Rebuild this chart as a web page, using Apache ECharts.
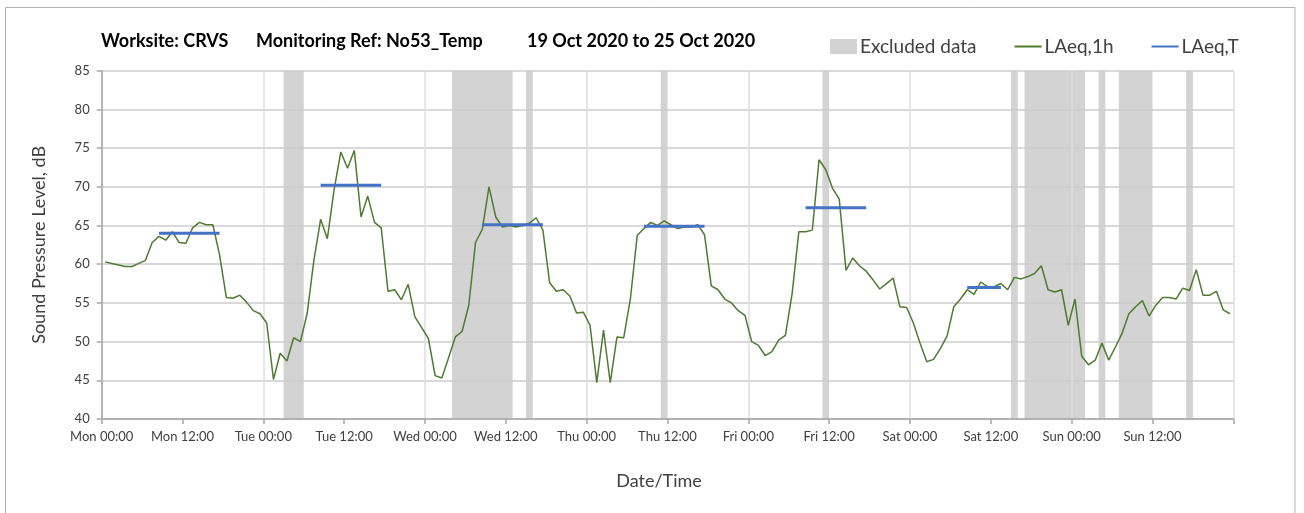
<!DOCTYPE html>
<html>
<head>
<meta charset="utf-8">
<script src="https://cdn.jsdelivr.net/npm/echarts@6/dist/echarts.min.js"></script>
<style>
  html, body { margin: 0; padding: 0; background: #fff; }
  #chart { width: 1304px; height: 513px; }
</style>
</head>
<body>
<div id="chart"></div>
<script>
// hourly LAeq,1h values, one array per day (00:00 .. 23:00)
const dayNames = ['Mon', 'Tue', 'Wed', 'Thu', 'Fri', 'Sat', 'Sun'];
const monValues = [60.3, 60.1, 59.9, 59.7, 59.7, 60.1, 60.5, 62.8, 63.6, 63.1, 64.2, 62.8,
                   62.7, 64.7, 65.4, 65.1, 65.1, 61.2, 55.7, 55.6, 56.0, 55.1, 54.0, 53.6];
const tueValues = [52.4, 45.1, 48.5, 47.5, 50.5, 50.0, 53.6, 60.5, 65.8, 63.3, 69.6, 74.5,
                   72.4, 74.7, 66.1, 68.8, 65.4, 64.7, 56.5, 56.7, 55.4, 57.4, 53.2, 51.8];
const wedValues = [50.4, 45.6, 45.3, 47.9, 50.6, 51.3, 54.7, 62.8, 64.5, 70.0, 66.1, 64.8,
                   65.0, 64.8, 65.0, 65.3, 66.0, 64.4, 57.6, 56.5, 56.7, 55.9, 53.7, 53.8];
const thuValues = [52.1, 44.7, 51.5, 44.7, 50.6, 50.5, 55.6, 63.7, 64.6, 65.4, 65.0, 65.6,
                   65.1, 64.6, 64.8, 64.8, 65.1, 63.8, 57.2, 56.7, 55.5, 55.0, 54.0, 53.4];
const friValues = [50.0, 49.5, 48.2, 48.7, 50.2, 50.8, 56.2, 64.2, 64.2, 64.4, 73.5, 72.2,
                   69.8, 68.4, 59.2, 60.8, 59.8, 59.1, 58.0, 56.8, 57.5, 58.2, 54.5, 54.4];
const satValues = [52.4, 49.8, 47.4, 47.7, 49.1, 50.7, 54.5, 55.5, 56.7, 56.1, 57.7, 57.1,
                   57.1, 57.5, 56.7, 58.3, 58.1, 58.4, 58.8, 59.8, 56.7, 56.4, 56.7, 52.1];
const sunValues = [55.5, 48.1, 47.0, 47.6, 49.8, 47.6, 49.3, 51.1, 53.6, 54.5, 55.3, 53.3,
                   54.7, 55.7, 55.7, 55.5, 56.9, 56.6, 59.3, 56.0, 56.0, 56.5, 54.1, 53.6];

// LAeq,T daytime period values (hours from Mon 00:00)
const laeqTValues = [64.0, 70.2, 65.1, 64.9, 67.3, 57.0];
const laeqTStart = [8, 32, 56, 80, 104, 128];
const laeqTEnd = [17, 41, 65, 89, 113, 133];

// excluded data periods (hours from Mon 00:00)
const excludedStart = [27, 52, 63, 83, 107, 135, 137, 148, 151, 161];
const excludedEnd = [30, 61, 64, 84, 108, 136, 146, 149, 156, 162];

const yTicks = [40, 85, 5];

const allValues = [].concat(monValues, tueValues, wedValues, thuValues, friValues, satValues, sunValues);
// each hourly value plotted at the middle of its hour
const hourlyData = allValues.map((v, i) => [i + 0.5, v]);

const laeqTSeries = laeqTValues.map((v, i) => ({
    name: 'LAeq,T',
    type: 'line',
    xAxisIndex: 0,
    data: [[laeqTStart[i] + 0.5, v], [laeqTEnd[i] + 0.5, v]],
    symbol: 'none',
    lineStyle: { color: '#4472C4', width: 3 },
    itemStyle: { color: '#4472C4' },
    z: 4,
    silent: true
}));

const axisGrey = '#a6a6a6';
const textGrey = '#404040';
const fontFam = 'Lato, "Liberation Sans", sans-serif';
const titleStyle = { fontSize: 18, fontWeight: 'bold', color: '#000', fontFamily: fontFam };

const chart = echarts.init(document.getElementById('chart'));

chart.setOption({
    animation: false,
    backgroundColor: '#fff',
    textStyle: { fontFamily: fontFam },
    title: [
        { text: 'Worksite: CRVS', left: 101, top: 32, padding: 0, textStyle: titleStyle },
        { text: 'Monitoring Ref: No53_Temp', left: 256, top: 32, padding: 0, textStyle: titleStyle },
        { text: '19 Oct 2020 to 25 Oct 2020', left: 527, top: 32, padding: 0, textStyle: titleStyle }
    ],
    legend: {
        left: 830,
        top: 37,
        padding: 0,
        itemWidth: 27,
        itemHeight: 15,
        itemGap: 37,
        textStyle: { fontSize: 19, color: textGrey, fontFamily: fontFam, padding: [0, 0, 0, -2] },
        data: [
            { name: 'Excluded data', icon: 'rect' },
            { name: 'LAeq,1h', itemStyle: { opacity: 0 } },
            { name: 'LAeq,T', itemStyle: { opacity: 0 } }
        ]
    },
    grid: { left: 101.7, right: 70.7, top: 70.7, bottom: 94 },
    xAxis: [
        {
            type: 'value',
            min: 0,
            max: 168,
            interval: 12,
            axisLine: { show: true, lineStyle: { color: axisGrey, width: 1.5 } },
            axisTick: { show: true, length: 5, lineStyle: { color: axisGrey, width: 1.5 } },
            axisLabel: {
                color: textGrey,
                fontSize: 13,
                margin: 11,
                formatter: function (v) {
                    if (v >= 168) return '';
                    const d = Math.floor(v / 24);
                    const h = v % 24;
                    return dayNames[d] + ' ' + (h < 10 ? '0' : '') + h + ':00';
                }
            },
            splitLine: { show: false }
        },
        {
            type: 'value',
            min: 0,
            max: 168,
            interval: 24,
            position: 'bottom',
            axisLine: { show: false },
            axisTick: { show: false },
            axisLabel: { show: false },
            splitLine: { show: true, lineStyle: { color: '#dedede', width: 1.5 } }
        }
    ],
    yAxis: {
        type: 'value',
        min: yTicks[0],
        max: yTicks[1],
        interval: yTicks[2],
        name: 'Sound Pressure Level, dB',
        nameLocation: 'middle',
        nameGap: 54,
        nameTextStyle: { fontSize: 18, color: textGrey, fontFamily: fontFam },
        axisLine: { show: true, lineStyle: { color: axisGrey, width: 1.5 } },
        axisTick: { show: true, length: 5, lineStyle: { color: axisGrey, width: 1.5 } },
        axisLabel: { color: textGrey, fontSize: 13, margin: 12 },
        splitLine: { show: true, lineStyle: { color: '#cccccc', width: 1.5 } }
    },
    graphic: [
        {
            type: 'rect',
            shape: { x: 5.5, y: 7.5, width: 1289.5, height: 520 },
            style: { fill: 'none', stroke: '#b4b4b4', lineWidth: 1 },
            silent: true
        },
        {
            type: 'text',
            style: {
                x: 659, y: 481,
                text: 'Date/Time',
                fill: textGrey,
                font: '18px ' + fontFam,
                textAlign: 'center',
                textVerticalAlign: 'middle'
            },
            silent: true
        }
    ],
    series: [
        {
            name: 'Excluded data',
            type: 'custom',
            xAxisIndex: 0,
            z: -1,
            silent: true,
            itemStyle: { color: '#d3d3d3' },
            encode: { x: [0, 1] },
            data: excludedStart.map((s, i) => [s, excludedEnd[i]]),
            renderItem: function (params, api) {
                const p0 = api.coord([api.value(0), yTicks[0]]);
                const p1 = api.coord([api.value(1), yTicks[0]]);
                const cs = params.coordSys;
                return {
                    type: 'rect',
                    shape: { x: p0[0], y: cs.y, width: p1[0] - p0[0], height: cs.height },
                    style: { fill: '#d3d3d3' }
                };
            }
        },
        {
            name: 'LAeq,1h',
            type: 'line',
            xAxisIndex: 0,
            data: hourlyData,
            symbol: 'none',
            lineStyle: { color: '#4e7a32', width: 1.5 },
            itemStyle: { color: '#4e7a32' },
            z: 3,
            silent: true
        }
    ].concat(laeqTSeries)
});
</script>
</body>
</html>
